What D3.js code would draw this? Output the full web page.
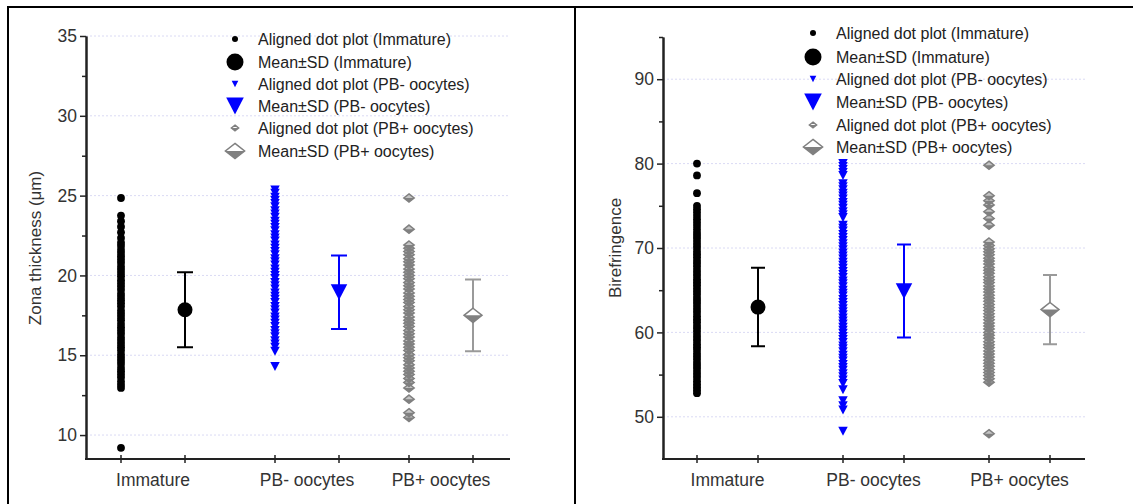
<!DOCTYPE html>
<html>
<head>
<meta charset="utf-8">
<script src="https://cdn.jsdelivr.net/npm/d3@7"></script>
<style>
  body { margin: 0; background: #fff; }
  svg { display: block; font-family: "Liberation Sans", Arial, sans-serif; }
</style>
</head>
<body>
<svg id="chart" width="1133" height="504"></svg>
<script>
// groups and legend
const groups = ["Immature", "PB- oocytes", "PB+ oocytes"];
const legendLabels = [
  "Aligned dot plot (Immature)",
  "Mean\u00b1SD (Immature)",
  "Aligned dot plot (PB- oocytes)",
  "Mean\u00b1SD (PB- oocytes)",
  "Aligned dot plot (PB+ oocytes)",
  "Mean\u00b1SD (PB+ oocytes)"
];

// zona thickness (um) values
const zonaImmature = [24.85, 23.75, 23.4, 23.05, 22.7, 22.35, 22.05, 21.85, 21.6, 21.4, 21.2, 21.0, 20.8, 20.55,
  20.35, 20.15, 19.95, 19.7, 19.5, 19.3, 19.1, 18.85, 18.65, 18.45, 18.25, 18.05, 17.8, 17.6, 17.4, 17.2,
  16.95, 16.75, 16.55, 16.35, 16.1, 15.9, 15.7, 15.5, 15.3, 15.05, 14.85, 14.65, 14.45, 14.2, 14.0, 13.8,
  13.6, 13.35, 13.15, 12.95, 9.2];
const zonaPBminus = [25.35, 25.15, 24.9, 24.7, 24.5, 24.3, 24.05, 23.85, 23.65, 23.4, 23.2, 23.0, 22.8, 22.55,
  22.35, 22.15, 21.9, 21.7, 21.5, 21.3, 21.05, 20.85, 20.65, 20.4, 20.2, 20.0, 19.8, 19.55, 19.35, 19.15,
  18.9, 18.7, 18.5, 18.3, 18.05, 17.85, 17.65, 17.4, 17.2, 17.0, 16.8, 16.55, 16.35, 16.15, 15.9, 15.7,
  15.5, 15.25, 14.3];
const zonaPBplus = [24.85, 22.9, 21.9, 21.7, 21.5, 21.3, 21.05, 20.85, 20.65, 20.4, 20.2, 20.0, 19.8, 19.55,
  19.35, 19.15, 18.9, 18.7, 18.5, 18.3, 18.05, 17.85, 17.65, 17.4, 17.2, 17.0, 16.8, 16.55, 16.35, 16.15,
  15.9, 15.7, 15.5, 15.3, 15.05, 14.85, 14.65, 14.4, 14.2, 14.0, 13.8, 13.55, 13.3, 12.95, 12.25, 11.4, 11.1];
const zonaMean = [17.85, 18.95, 17.5];
const zonaSD = [2.35, 2.3, 2.25];
const zonaTicks = [10, 15, 20, 25, 30, 35];
const zonaMinor = [12.5, 17.5, 22.5, 27.5, 32.5];

// birefringence values
const bireImmature = [80.0, 78.6, 76.5, 75.0, 74.6, 74.2, 73.8, 73.4, 73.0, 72.6, 72.2, 71.8, 71.45, 71.1, 70.7,
  70.35, 70.0, 69.6, 69.25, 68.9, 68.5, 68.15, 67.8, 67.4, 67.05, 66.7, 66.3, 65.95, 65.6, 65.2, 64.85, 64.5,
  64.1, 63.75, 63.4, 63.0, 62.65, 62.3, 61.9, 61.55, 61.2, 60.8, 60.45, 60.1, 59.7, 59.35, 59.0, 58.6, 58.25,
  57.9, 57.5, 57.15, 56.8, 56.4, 56.05, 55.7, 55.3, 54.95, 54.6, 54.2, 53.85, 53.5, 53.15, 52.8];
const birePBminus = [80.0, 79.65, 79.3, 78.95, 78.6, 77.6, 77.25, 76.9, 76.5, 76.15, 75.8, 75.4, 75.05, 74.7,
  74.3, 73.95, 73.6, 72.7, 72.35, 72.0, 71.6, 71.25, 70.9, 70.5, 70.15, 69.8, 69.4, 69.05, 68.7, 68.3, 67.95,
  67.6, 67.2, 66.85, 66.5, 66.1, 65.75, 65.4, 65.0, 64.65, 64.3, 63.9, 63.55, 63.2, 62.8, 62.45, 62.1, 61.7,
  61.35, 61.0, 60.6, 60.25, 59.9, 59.5, 59.15, 58.8, 58.4, 58.05, 57.7, 57.3, 56.95, 56.6, 56.2, 55.85, 55.5,
  55.1, 54.75, 54.35, 53.95, 53.2, 51.9, 51.3, 50.8, 48.3];
const birePBplus = [79.8, 76.2, 75.6, 75.1, 74.3, 73.5, 72.7, 70.7, 70.3, 69.9, 69.55, 69.2, 68.8, 68.45, 68.1,
  67.7, 67.35, 67.0, 66.6, 66.25, 65.9, 65.5, 65.15, 64.8, 64.4, 64.05, 63.7, 63.3, 62.95, 62.6, 62.2, 61.85,
  61.5, 61.1, 60.75, 60.4, 60.0, 59.65, 59.3, 58.9, 58.55, 58.2, 57.8, 57.45, 57.1, 56.7, 56.35, 56.0, 55.6,
  55.25, 54.9, 54.5, 54.1, 48.0];
const bireMean = [63.0, 64.9, 62.7];
const bireSD = [4.65, 5.5, 4.1];
const bireTicks = [50, 60, 70, 80, 90];
const bireMinor = [55, 65, 75, 85, 95];

const colors = ["#000000", "#0000ff", "#808080"];
const barColors = ["#000000", "#0000ff", "#9a9a9a"];

const svg = d3.select("#chart");

// frame lines
svg.append("path")
  .attr("d", "M8,504V7H1133M575,7V504")
  .attr("fill", "none").attr("stroke", "#000").attr("stroke-width", 2);

// symbol paths
function triDown(w, h) {
  return `M${-w / 2},${-h / 2}L${w / 2},${-h / 2}L0,${h / 2}Z`;
}
function diamond(w, h) {
  return `M0,${-h / 2}L${w / 2},0L0,${h / 2}L${-w / 2},0Z`;
}
function diamondLow(w, h) {
  return `M${-w / 2},0L${w / 2},0L0,${h / 2}Z`;
}

function drawMarker(g, kind, size, x, y, color, topFill) {
  const m = g.append("g").attr("transform", `translate(${x},${y})`);
  if (kind === 0) {
    m.append("circle").attr("r", size).attr("fill", color);
  } else if (kind === 1) {
    m.append("path").attr("d", triDown(size * 2.2, size * 2.1)).attr("fill", color);
  } else {
    m.append("path").attr("d", diamond(size * 2.4, size * 1.9))
      .attr("fill", topFill || "#fff").attr("stroke", color).attr("stroke-width", 1.5);
    m.append("path").attr("d", diamondLow(size * 2.4, size * 1.9)).attr("fill", color);
  }
}

function drawPanel(cfg) {
  const g = svg.append("g");
  const y = d3.scaleLinear().domain(cfg.domain).range([459, cfg.top]);

  // grid
  g.selectAll("line.grid").data(cfg.ticks).join("line")
    .attr("x1", cfg.axisX).attr("x2", cfg.axisEnd)
    .attr("y1", d => y(d)).attr("y2", d => y(d))
    .attr("stroke", "#dadaf4").attr("stroke-width", 1).attr("stroke-dasharray", "2,2");

  // y axis
  const yAxis = g.append("g").attr("transform", `translate(${cfg.axisX},0)`)
    .call(d3.axisLeft(y).tickValues(cfg.ticks).tickSize(6).tickPadding(3).tickSizeOuter(0));
  const yMinor = g.append("g").attr("transform", `translate(${cfg.axisX},0)`)
    .call(d3.axisLeft(y).tickValues(cfg.minor).tickSize(4).tickFormat("").tickSizeOuter(0));
  [yAxis, yMinor].forEach(a => {
    a.select(".domain").attr("stroke", "#222").attr("stroke-width", 2);
    a.selectAll(".tick line").attr("stroke", "#222").attr("stroke-width", 1.5);
  });
  yAxis.selectAll(".tick text").attr("font-size", 17.5).attr("fill", "#333")
    .attr("font-family", "Liberation Sans, Arial, sans-serif");

  // x axis
  g.append("line").attr("x1", cfg.axisX - 1).attr("x2", cfg.axisEnd)
    .attr("y1", 459).attr("y2", 459).attr("stroke", "#222").attr("stroke-width", 2);
  const tickXs = cfg.dotX.concat(cfg.meanX);
  g.selectAll("line.xt").data(tickXs).join("line")
    .attr("x1", d => d).attr("x2", d => d).attr("y1", 455).attr("y2", 463)
    .attr("stroke", "#222").attr("stroke-width", 1.5);
  g.selectAll("text.xl").data(groups).join("text")
    .attr("x", (d, i) => (cfg.dotX[i] + cfg.meanX[i]) / 2).attr("y", 486)
    .attr("text-anchor", "middle").attr("font-size", 17.5).attr("fill", "#333").text(d => d);

  // y title
  g.append("text")
    .attr("transform", `translate(${cfg.titleX},248) rotate(-90)`)
    .attr("text-anchor", "middle").attr("font-size", 17).attr("fill", "#333")
    .text(cfg.title);

  // aligned dots (drawn from low to high so the stack reads as a solid column)
  cfg.series.forEach((vals, i) => {
    vals.slice().sort((a, b) => a - b).forEach(v =>
      drawMarker(g, i, i === 0 ? 3.9 : 4.3, cfg.dotX[i], y(v), colors[i], "#c4c4c4"));
  });

  // mean and sd
  cfg.mean.forEach((m, i) => {
    const x = cfg.meanX[i];
    const hi = y(m + cfg.sd[i]), lo = y(m - cfg.sd[i]);
    const c = barColors[i];
    g.append("path")
      .attr("d", `M${x},${hi}V${lo}M${x - cfg.cap},${hi}H${x + cfg.cap}M${x - cfg.cap},${lo}H${x + cfg.cap}`)
      .attr("fill", "none").attr("stroke", c).attr("stroke-width", 2);
    drawMarker(g, i, 7.5, x, y(m), colors[i]);
  });

  // legend
  legendLabels.forEach((label, k) => {
    const ly = cfg.legendY[k];
    const kind = Math.floor(k / 2);
    const big = k % 2 === 1;
    drawMarker(g, kind, big ? (kind === 0 ? 8.5 : 8) : 3, cfg.legendX, ly, colors[kind]);
    g.append("text").attr("x", cfg.legendX + 23).attr("y", ly).attr("dy", "0.36em")
      .attr("font-size", 16).attr("fill", "#222").text(label);
  });
}

drawPanel({
  domain: [8.5, 35], top: 36, ticks: zonaTicks, minor: zonaMinor,
  axisX: 86, axisEnd: 510, titleX: 41, title: "Zona thickness (\u03bcm)",
  dotX: [121, 275, 409], meanX: [185, 339, 473], cap: 8,
  series: [zonaImmature, zonaPBminus, zonaPBplus], mean: zonaMean, sd: zonaSD,
  legendX: 235, legendY: [39, 62, 84, 106, 128, 151]
});

drawPanel({
  domain: [45, 95], top: 37, ticks: bireTicks, minor: bireMinor,
  axisX: 663, axisEnd: 1085, titleX: 621, title: "Birefringence",
  dotX: [697, 843, 989], meanX: [758, 904, 1050], cap: 7,
  series: [bireImmature, birePBminus, birePBplus], mean: bireMean, sd: bireSD,
  legendX: 813, legendY: [33, 57, 79, 102, 125, 147]
});
</script>
</body>
</html>
